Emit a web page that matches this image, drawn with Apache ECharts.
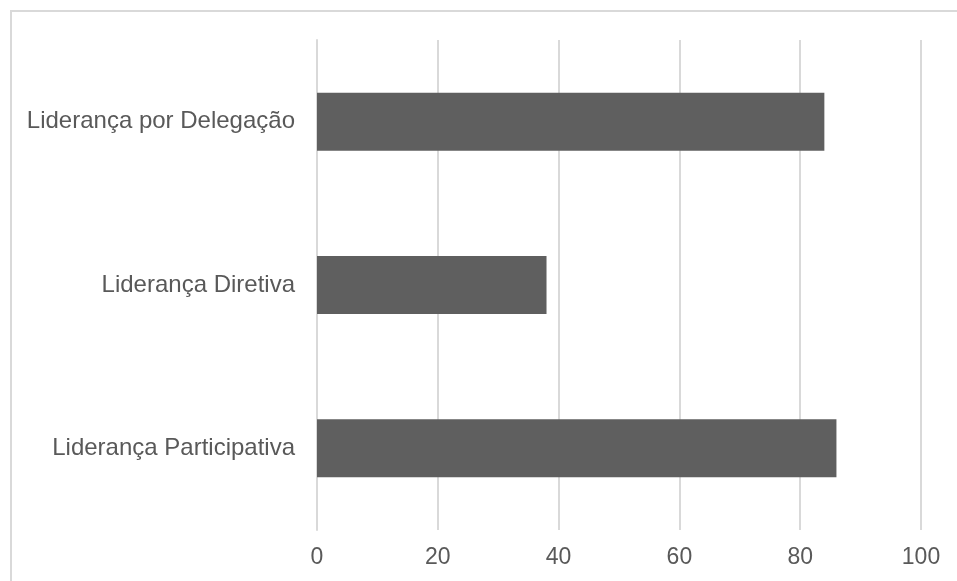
<!DOCTYPE html>
<html>
<head>
<meta charset="utf-8">
<script src="https://cdn.jsdelivr.net/npm/echarts@6/dist/echarts.min.js"></script>
<style>
  html, body { margin: 0; padding: 0; background: #fff; }
  #chart { width: 957px; height: 581px; }
</style>
</head>
<body>
<div id="chart"></div>
<script>
// Leadership styles, listed bottom to top as drawn on the category axis
const categories = ['Liderança Participativa', 'Liderança Diretiva', 'Liderança por Delegação'];
const values = [86, 38, 84];
const axisMin = 0;
const axisMax = 100;
const axisStep = 20;

const chart = echarts.init(document.getElementById('chart'), null, { renderer: 'canvas' });
const textColor = '#595959';
const fontFamily = '"Liberation Sans", Arial, sans-serif';

chart.setOption({
  animation: false,
  backgroundColor: '#ffffff',
  graphic: [{
    type: 'rect',
    shape: { x: 11, y: 11, width: 980, height: 620 },
    style: { fill: 'none', stroke: '#d9d9d9', lineWidth: 2 },
    silent: true
  }],
  grid: { left: 317, top: 40, width: 604, height: 490, containLabel: false },
  xAxis: {
    type: 'value',
    min: axisMin,
    max: axisMax,
    interval: axisStep,
    axisLine: { show: false },
    axisTick: { show: false },
    splitLine: { show: true, lineStyle: { color: '#d9d9d9', width: 2 } },
    axisLabel: { color: textColor, fontSize: 23, fontFamily: fontFamily, margin: 16 }
  },
  yAxis: {
    type: 'category',
    data: categories,
    axisLine: { show: true, lineStyle: { color: '#d9d9d9', width: 2 } },
    axisTick: { show: false },
    axisLabel: { color: textColor, fontSize: 24, fontFamily: fontFamily, margin: 22 }
  },
  series: [{
    type: 'bar',
    data: values,
    barCategoryGap: '64.5%',
    itemStyle: { color: '#5f5f5f' }
  }]
});
</script>
</body>
</html>
